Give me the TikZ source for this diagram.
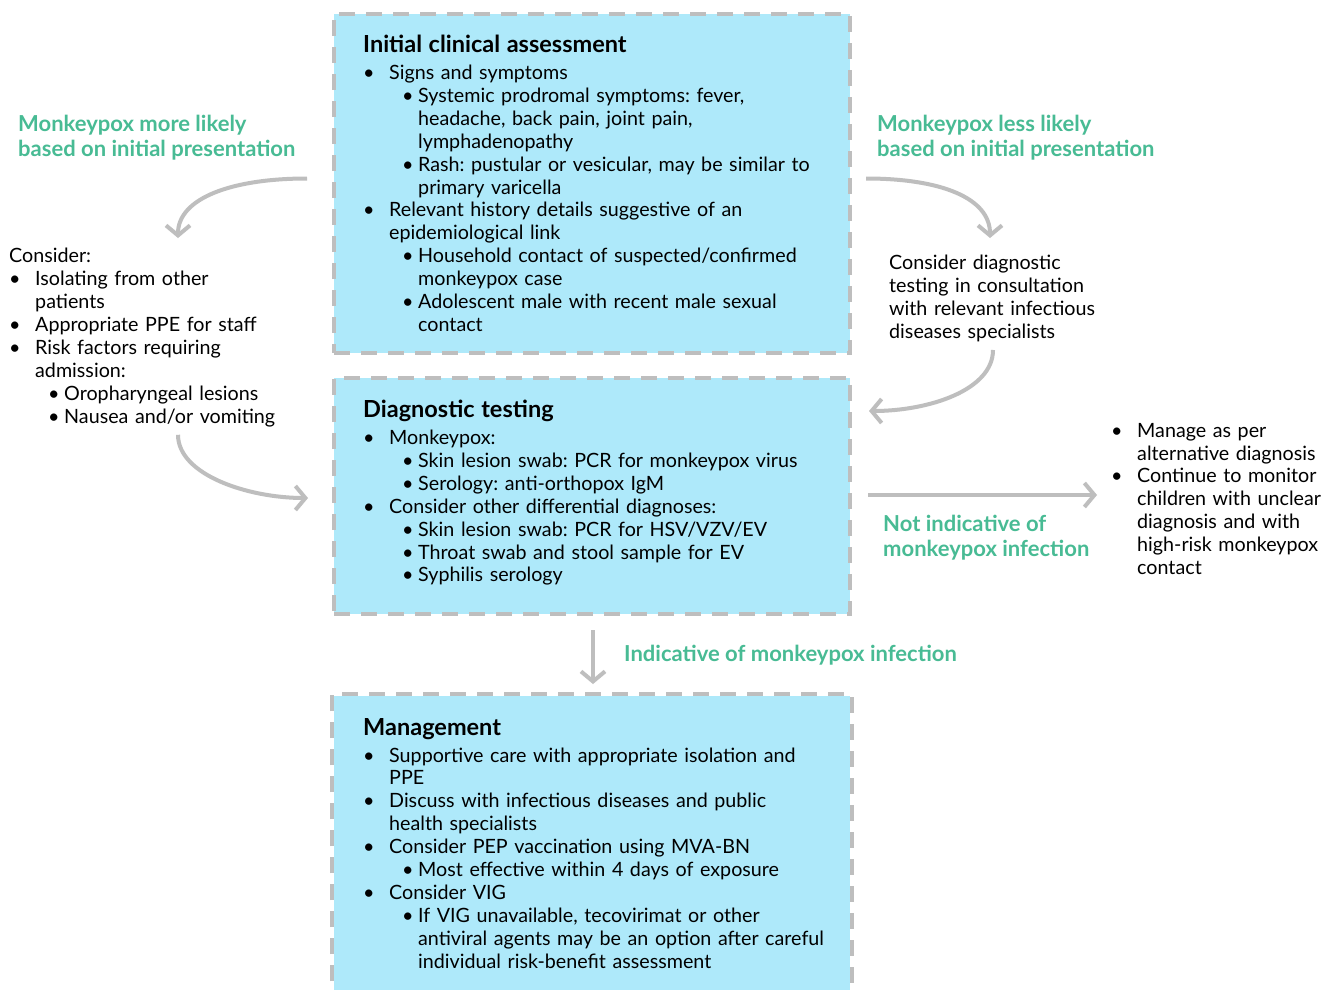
\documentclass[tikz,border=0pt]{standalone}
\usepackage{fontspec}
\setmainfont{Lato}
\usetikzlibrary{arrows.meta,calc}
\definecolor{boxcyan}{RGB}{174,233,250}
\definecolor{dashgray}{RGB}{190,190,190}
\definecolor{labelgreen}{RGB}{72,187,148}

% bullet lines with hanging indent
\newcommand{\bitem}[1]{\par\hangindent=26pt\hangafter=1\noindent
  \hbox to 26pt{\textbullet\hfil}{\let\\\newline #1}}
\newcommand{\sitem}[1]{\par\hangindent=55pt\hangafter=1\noindent
  \hbox to 55pt{\hspace{39pt}\textbullet\hfil}{\let\\\newline #1}}
\newcommand{\boxtitle}[1]{{\fontsize{23.5}{25}\selectfont\bfseries #1}\par\vspace{4pt}}

\begin{document}
\begin{tikzpicture}[x=1pt,y=-1pt,font=\fontsize{19.7}{22.9}\selectfont\frenchspacing]
  % styles
  \tikzstyle{panel}=[rectangle,fill=boxcyan,draw=dashgray,line width=4pt,
                     dash pattern=on 16pt off 11pt,anchor=north west,
                     minimum width=516pt,inner sep=0pt]
  \tikzstyle{txt}=[anchor=north west,inner sep=0pt,text width=480pt]
  \tikzstyle{lbl}=[anchor=north west,inner sep=0pt,align=left,text=labelgreen,
                   font=\fontsize{22}{25}\selectfont\bfseries]
  \tikzstyle{arr}=[draw=dashgray,line width=4pt,
                   -{Straight Barb[length=10pt,width=24pt]}]

  \useasboundingbox[fill=white] (0,0) rectangle (1322,990);

  % boxes
  \node[panel,minimum height=339pt] (assess) at (332,12) {};
  \node[panel,minimum height=236pt] (diag) at (332,376) {};
  \node[panel,draw=none,minimum height=310pt] (manage) at (332,694) {};
  \draw[dashgray,line width=4pt,dash pattern=on 16pt off 11pt]
    (manage.south west) -- (manage.north west) -- (manage.north east) -- (manage.south east);

  % box texts
  \node[txt] (assesstxt) at (363,35) {%
    \boxtitle{Initial clinical assessment}
    \bitem{Signs and symptoms}
    \sitem{Systemic prodromal symptoms: fever,\\headache, back pain, joint pain,\\lymphadenopathy}
    \sitem{Rash: pustular or vesicular, may be similar to\\primary varicella}
    \bitem{Relevant history details suggestive of an\\epidemiological link}
    \sitem{Household contact of suspected/confirmed\\monkeypox case}
    \sitem{Adolescent male with recent male sexual\\contact}\par};
  \node[txt] (diagtxt) at (363,400) {%
    \boxtitle{Diagnostic testing}
    \bitem{Monkeypox:}
    \sitem{Skin lesion swab: PCR for monkeypox virus}
    \sitem{Serology: anti-orthopox IgM}
    \bitem{Consider other differential diagnoses:}
    \sitem{Skin lesion swab: PCR for HSV/VZV/EV}
    \sitem{Throat swab and stool sample for EV}
    \sitem{Syphilis serology}\par};
  \node[txt] (managetxt) at (363,718) {%
    \boxtitle{Management}
    \bitem{Supportive care with appropriate isolation and\\PPE}
    \bitem{Discuss with infectious diseases and public\\health specialists}
    \bitem{Consider PEP vaccination using MVA-BN}
    \sitem{Most effective within 4 days of exposure}
    \bitem{Consider VIG}
    \sitem{If VIG unavailable, tecovirimat or other\\antiviral agents may be an option after careful\\individual risk-benefit assessment}\par};

  % side texts
  \node[txt,text width=300pt] (consider) at (9,248) {%
    Consider:
    \bitem{Isolating from other\\patients}
    \bitem{Appropriate PPE for staff}
    \bitem{Risk factors requiring\\admission:}
    \sitem{Oropharyngeal lesions}
    \sitem{Nausea and/or vomiting}\par};
  \node[txt,text width=230pt] (testing) at (889,255) {%
    Consider diagnostic\\testing in consultation\\with relevant infectious\\diseases specialists};
  \node[txt,text width=210pt] (alt) at (1111,414) {%
    \bitem{Manage as per\\alternative diagnosis}
    \bitem{Continue to monitor\\children with unclear\\diagnosis and with\\high-risk monkeypox\\contact}\par};

  % green labels
  \node[lbl] (morelikely) at (18,115) {Monkeypox more likely\\based on initial presentation};
  \node[lbl] (lesslikely) at (877,115) {Monkeypox less likely\\based on initial presentation};
  \node[lbl] (notind) at (883,515) {Not indicative of\\monkeypox infection};
  \node[lbl] (ind) at (624,645) {Indicative of monkeypox infection};

  % arrows
  \draw[arr] ($(assess.west)+(-25,-5)$) .. controls +(-75,0) and +(0,-40) .. ($(consider.north west)+(169,-10)$);
  \draw[arr] ($(consider.south west)+(169,8)$) .. controls +(0,40) and +(-60,0) .. ($(diag.west)+(-24,2)$);
  \draw[arr] ($(assess.east)+(14,-5)$) .. controls +(75,0) and +(0,-40) .. ($(testing.north west)+(101,-17)$);
  \draw[arr] ($(testing.south west)+(104,8)$) .. controls +(0,40) and +(60,0) .. ($(diag.north east)+(17,35)$);
  \draw[arr] ($(diag.east)+(16,-1)$) -- ($(alt.west |- diag.east)+(-14,-1)$);
  \draw[arr] ($(diag.south)+(1,14)$) -- ($(manage.north)+(1,-10)$);
\end{tikzpicture}
\end{document}
